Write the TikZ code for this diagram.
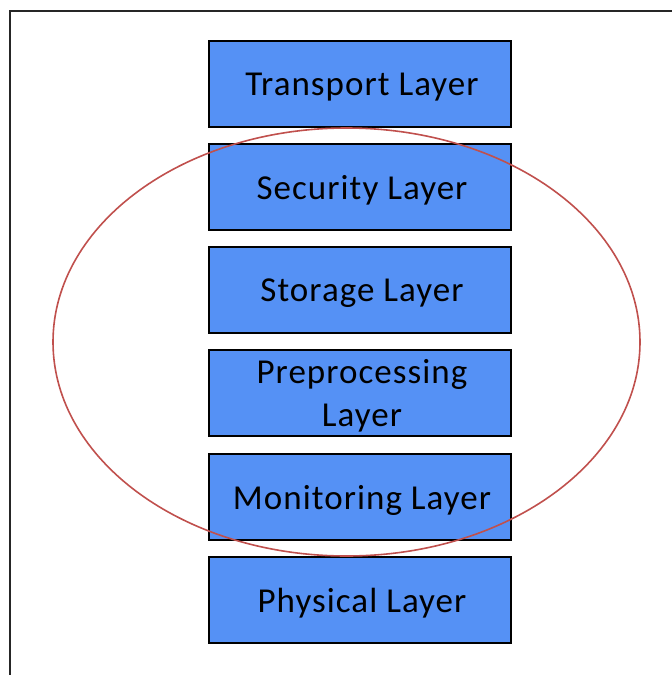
\documentclass[tikz,border=0pt]{standalone}
\usepackage{fontspec}
\setmainfont{Carlito}[LetterSpace=3]
\definecolor{layerblue}{RGB}{85,145,245}
\definecolor{ringred}{RGB}{192,80,77}
\begin{document}
\begin{tikzpicture}[x=1pt,y=-1pt,
  layerbox/.style={draw=black, line width=2.2pt, fill=layerblue,
    minimum width=302pt, minimum height=86pt, inner sep=0pt,
    anchor=center},
  layertext/.style={font=\fontsize{35}{43}\selectfont, align=center,
    inner sep=0pt, anchor=center}]
\useasboundingbox (0,0) rectangle (672,675);
% outer frame (runs past the page on the right and bottom)
\draw[line width=2.6pt, black!85] (10,700) -- (10,11) -- (700,11);
% layer stack
\node[layerbox] (transport) at (360,84) {};
\node[layerbox] (security) at (360,187) {};
\node[layerbox] (storage) at (360,290) {};
\node[layerbox] (preproc) at (360,393) {};
\node[layerbox] (monitor) at (360,497) {};
\node[layerbox] (physical) at (360,600) {};
\node[layertext] (transportlbl) at ([shift={(2,3)}]transport.center) {Transport Layer};
\node[layertext] (securitylbl) at ([shift={(2,3)}]security.center) {Security Layer};
\node[layertext] (storagelbl) at ([shift={(2,3)}]storage.center) {Storage Layer};
\node[layertext] (preproclbl) at ([shift={(2,3)}]preproc.center) {Preprocessing\\Layer};
\node[layertext] (monitorlbl) at ([shift={(2,3)}]monitor.center) {Monitoring Layer};
\node[layertext] (physicallbl) at ([shift={(2,3)}]physical.center) {Physical Layer};
% grouping ring over the middle layers
\draw[ringred, line width=1.6pt] (346.5,342) ellipse [x radius=293.5, y radius=214];
\end{tikzpicture}
\end{document}
